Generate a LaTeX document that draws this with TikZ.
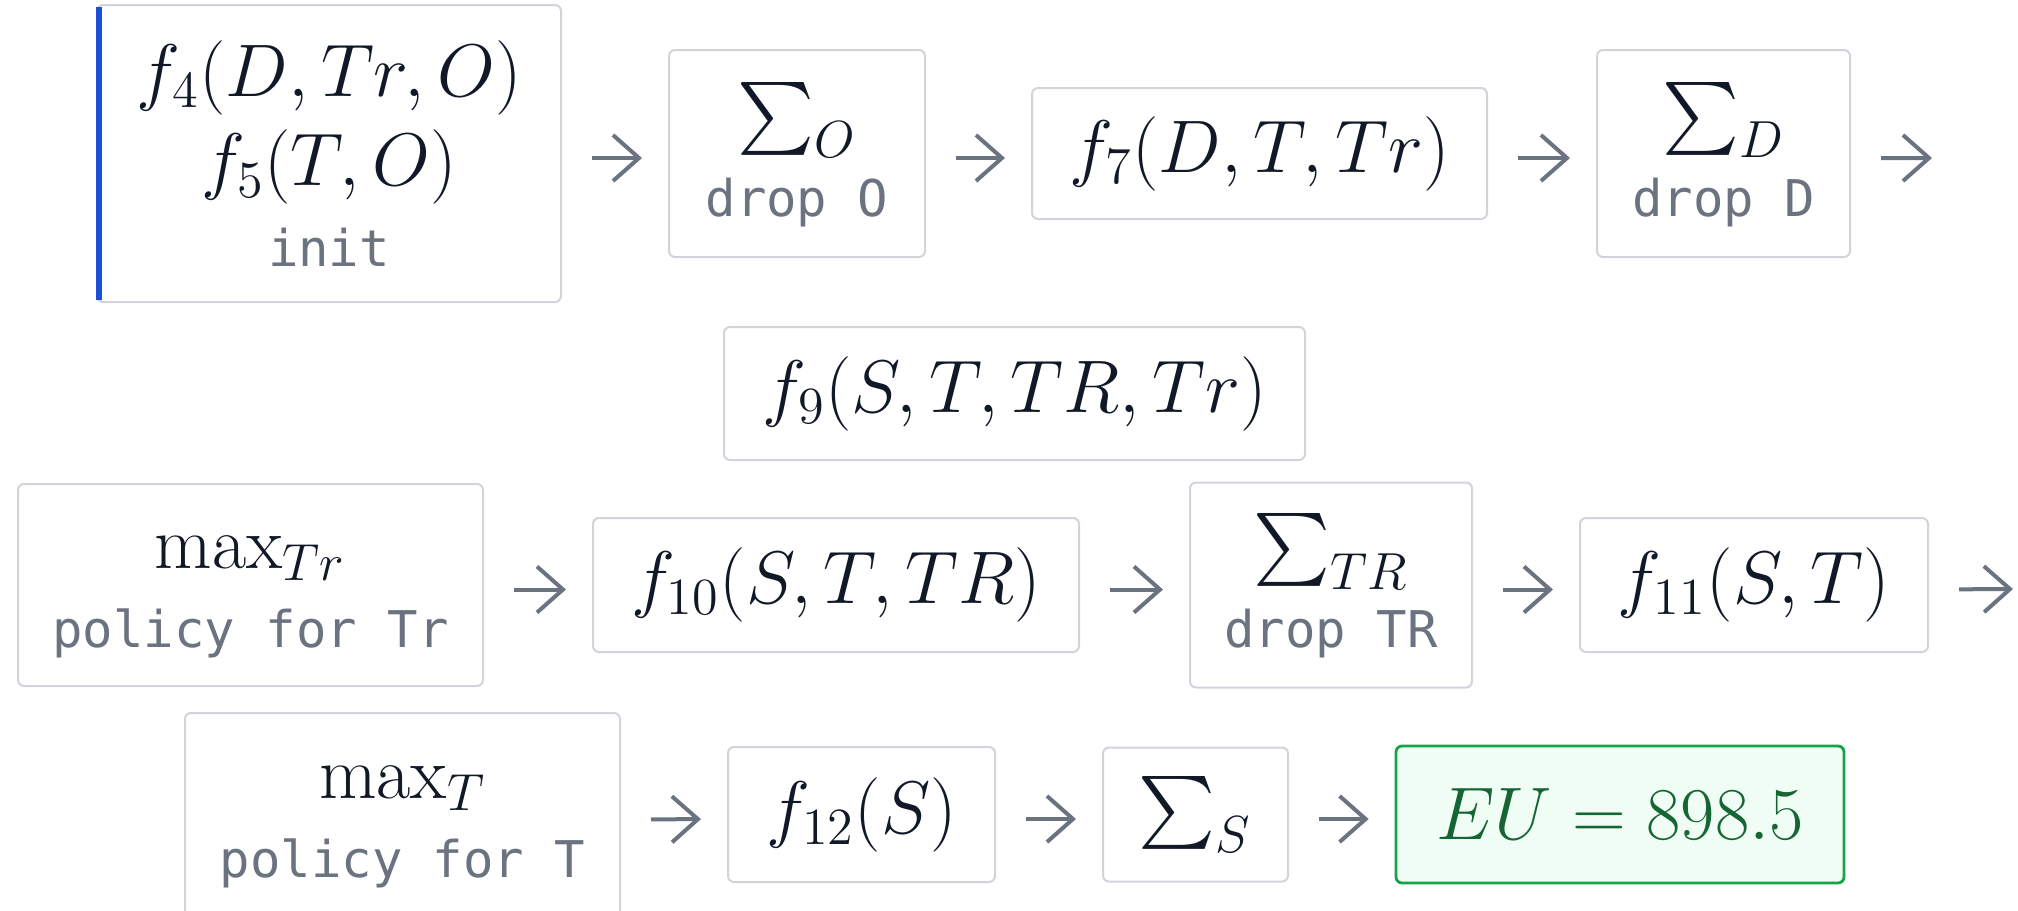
\RequirePackage{fix-cm}
\documentclass[tikz,border=0pt]{standalone}
\usepackage{exscale}
\usepackage{fontspec}
\setmonofont{DejaVu Sans Mono}
\usetikzlibrary{arrows.meta}
\definecolor{ink}{RGB}{17,24,39}
\definecolor{muted}{RGB}{107,114,128}
\definecolor{rim}{RGB}{209,213,219}
\definecolor{initblue}{RGB}{29,78,216}
\definecolor{eufill}{RGB}{240,253,244}
\definecolor{eurim}{RGB}{22,163,74}
\definecolor{eutext}{RGB}{22,101,52}
\newcommand{\note}[1]{{\fontsize{14.4}{17}\selectfont\ttfamily\color{muted}#1}}
\newcommand{\twoline}[2]{\rule{0pt}{18pt}#1\\[-3.1pt]\note{#2}\rule[-4.7pt]{0pt}{0pt}}

\begin{document}
\begin{tikzpicture}[x=0.1mm,y=-0.1mm,
  box/.style={draw=rim,line width=0.2mm,rounded corners=0.6mm,fill=white,inner sep=0pt,
    align=center,text=ink,font=\fontsize{21.2}{25.6}\selectfont},
  flow/.style={-{Straight Barb[length=2.6mm,width=4.6mm]},draw=muted,line width=0.4mm,
    shorten <=3mm,shorten >=2.6mm}]
\useasboundingbox (0,0) rectangle (2018,911);
\node[box,minimum width=46.4mm,minimum height=29.7mm] (init) at (329,153.5) {$f_4(D,Tr,O)$\\$f_5(T,O)$\\[-2.6pt]\note{init}};
\node[box,minimum width=25.6mm,minimum height=20.7mm] (sumO) at (797,153.5) {\twoline{$\sum_O$}{drop O}};
\node[box,minimum width=45.5mm,minimum height=13.1mm] (f7) at (1259.5,153.5) {$f_7(D,T,Tr)$};
\node[box,minimum width=25.3mm,minimum height=20.7mm] (sumD) at (1723.5,153.5) {\twoline{$\sum_D$}{drop D}};
\coordinate (outA) at (1932,158);
\draw[initblue,line width=0.55mm] ([xshift=0.3mm,yshift=-0.3mm]init.north west) -- ([xshift=0.3mm,yshift=0.3mm]init.south west);
\draw[flow] ([yshift=-0.45mm]init.east) -- ([yshift=-0.45mm]sumO.west);
\draw[flow] ([yshift=-0.45mm]sumO.east) -- ([yshift=-0.45mm]f7.west);
\draw[flow] ([yshift=-0.45mm]f7.east) -- ([yshift=-0.45mm]sumD.west);
\draw[flow,shorten >=0pt] ([yshift=-0.45mm]sumD.east) -- (outA);

\node[box,minimum width=58.1mm,minimum height=13.3mm] (f9) at (1014.5,393.5) {$f_9(S,T,TR,Tr)$};

\node[box,minimum width=46.5mm,minimum height=20.2mm] (maxTr) at (250.5,585) {\twoline{$\max_{Tr}$}{policy for Tr}};
\node[box,minimum width=48.6mm,minimum height=13.4mm] (f10) at (836,585) {$f_{10}(S,T,TR)$};
\node[box,minimum width=28.2mm,minimum height=20.5mm] (sumTR) at (1331,585) {\twoline{$\sum_{TR}$}{drop TR}};
\node[box,minimum width=34.8mm,minimum height=13.4mm] (f11) at (1754,585) {$f_{11}(S,T)$};
\coordinate (outB) at (2013,589);
\draw[flow] ([yshift=-0.45mm]maxTr.east) -- ([yshift=-0.45mm]f10.west);
\draw[flow] ([yshift=-0.45mm]f10.east) -- ([yshift=-0.45mm]sumTR.west);
\draw[flow] ([yshift=-0.45mm]sumTR.east) -- ([yshift=-0.45mm]f11.west);
\draw[flow,shorten >=0pt] ([yshift=-0.45mm]f11.east) -- (outB);

\node[box,minimum width=43.5mm,minimum height=20.4mm] (maxT) at (402.5,815) {\twoline{$\max_{T}$}{policy for T}};
\node[box,minimum width=26.7mm,minimum height=13.5mm] (f12) at (861.5,814.5) {$f_{12}(S)$};
\node[box,minimum width=18.5mm,minimum height=13.4mm] (sumS) at (1195.5,814.5) {$\sum_S$};
\node[box,draw=eurim,fill=eufill,text=eutext,line width=0.28mm,minimum width=44.8mm,minimum height=13.7mm] (eu) at (1620,814.5) {$EU=898.5$};
\draw[flow] ([yshift=-0.45mm]maxT.east) -- ([yshift=-0.45mm]f12.west);
\draw[flow] ([yshift=-0.45mm]f12.east) -- ([yshift=-0.45mm]sumS.west);
\draw[flow] ([yshift=-0.45mm]sumS.east) -- ([yshift=-0.45mm]eu.west);
\end{tikzpicture}
\end{document}
